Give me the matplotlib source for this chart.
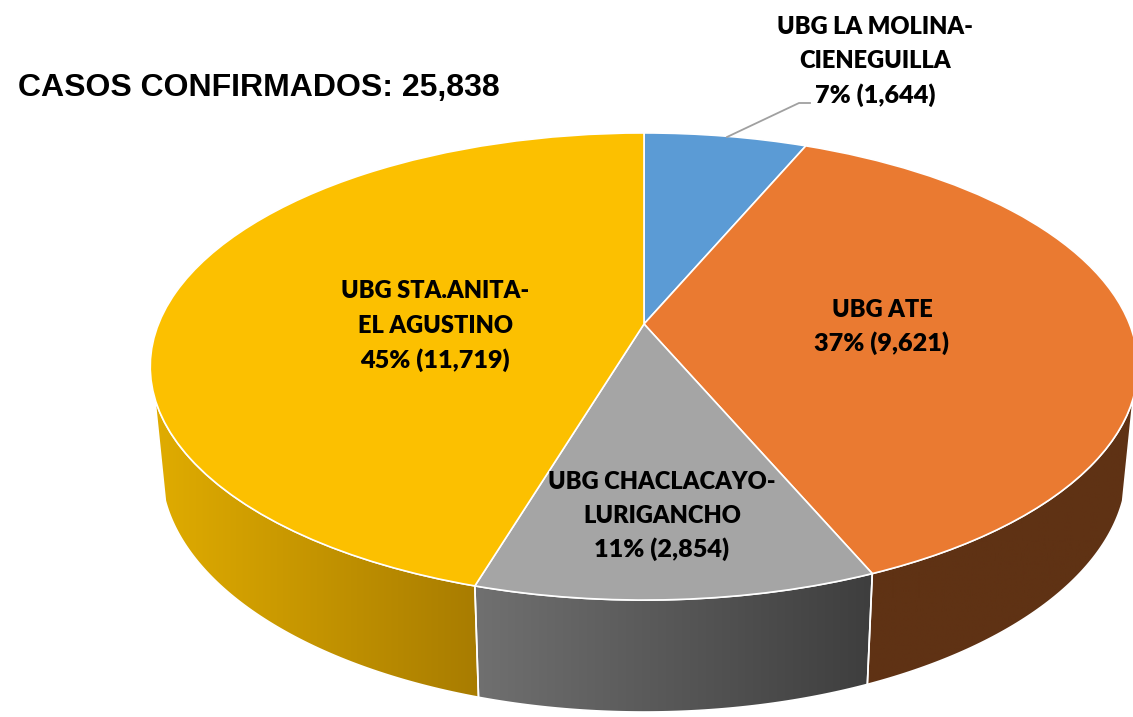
import numpy as np
import matplotlib
matplotlib.use('Agg')
import matplotlib.pyplot as plt
from matplotlib.colors import LinearSegmentedColormap
from matplotlib.patches import Polygon
from matplotlib.transforms import Transform

title = 'CASOS CONFIRMADOS: 25,838'
names = ['UBG LA MOLINA-\nCIENEGUILLA', 'UBG ATE', 'UBG CHACLACAYO-\nLURIGANCHO', 'UBG STA.ANITA-\nEL AGUSTINO']
cases = [1644, 9621, 2854, 11719]
pcts = [7, 37, 11, 45]
top_colors = ['#5b9bd5', '#ea7a31', '#a5a5a5', '#fcc000']
# wall gradient left -> right, blue wall is hidden behind the pie
wall_colors = [None, ('#5f3214', '#5f3214'), ('#707070', '#3e3e3e'), ('#e0ac00', '#a87c00')]
name_xy = [(875, 44), (882, 310), (662, 499), (435, 308.5)]
value_xy = [(875, 95), (882, 343), (662, 549), (435, 360)]


class Tilt(Transform):
    # unit circle -> pixels, with the perspective of the tilted disc
    input_dims = 2
    output_dims = 2
    is_affine = False
    has_inverse = False

    def __init__(self, cx, cy, a, b, k):
        super().__init__()
        self.cx, self.cy, self.a, self.b, self.k = cx, cy, a, b, k

    def transform_non_affine(self, values):
        values = np.asarray(values, dtype=float)
        d = 1 + self.k * values[:, 1]
        return np.column_stack([self.cx + self.a * values[:, 0] / d, self.cy - self.b * values[:, 1] / d])


top_rim = Tilt(644, 324, 485.5, 225.8, 0.182)
bottom_rim = Tilt(644, 423.5, 475, 236, 0.182)

fig = plt.figure(figsize=(11.33, 7.17), dpi=100)
ax = fig.add_axes([0, 0, 1, 1])

wedges, _ = ax.pie(cases, colors=top_colors, startangle=90, counterclock=False,
                   wedgeprops={'edgecolor': 'white', 'linewidth': 1.2, 'zorder': 5})
ax.set_aspect('auto')
for w in wedges:
    w.set_transform(top_rim + ax.transData)

# side walls, only the part facing the viewer
for w, wc in zip(wedges, wall_colors):
    if wc is None:
        continue
    t1 = np.radians(max(w.theta1, -162))
    t2 = np.radians(min(w.theta2, -18))
    t = np.linspace(t1, t2, 80)
    circle = np.column_stack([np.cos(t), np.sin(t)])
    pts = np.vstack([top_rim.transform(circle), bottom_rim.transform(circle)[::-1]])
    poly = Polygon(pts, closed=True, facecolor='none', edgecolor='white', linewidth=1.2, zorder=3)
    ax.add_patch(poly)
    cmap = LinearSegmentedColormap.from_list('wall', wc)
    im = ax.imshow(np.linspace(0, 1, 256).reshape(1, -1), cmap=cmap, aspect='auto', zorder=2,
                   extent=(pts[:, 0].min(), pts[:, 0].max(), pts[:, 1].max(), pts[:, 1].min()))
    im.set_clip_path(poly)

ax.set_xlim(0, 1133)
ax.set_ylim(717, 0)
ax.axis('off')

# leader line of the small slice
ax.plot([727, 799, 810], [137, 103, 103], color='#a0a0a0', lw=1.3, zorder=6)

for name, n, p, nxy, vxy in zip(names, cases, pcts, name_xy, value_xy):
    ax.text(nxy[0], nxy[1], name, ha='center', va='center', family='Lato',
            fontweight='heavy', fontsize=17, linespacing=1.68, color='black', zorder=7)
    # digits run wider in the original font
    ax.text(vxy[0], vxy[1], f'{p}% ({n:,})', ha='center', va='center', family='Lato',
            fontweight='heavy', fontsize=18.2, color='black', zorder=7)

ax.text(18, 88, title, ha='left', va='center', family='Liberation Sans',
        fontweight='bold', fontsize=23, color='black', zorder=7)

fig.savefig('out.png', dpi=100)
